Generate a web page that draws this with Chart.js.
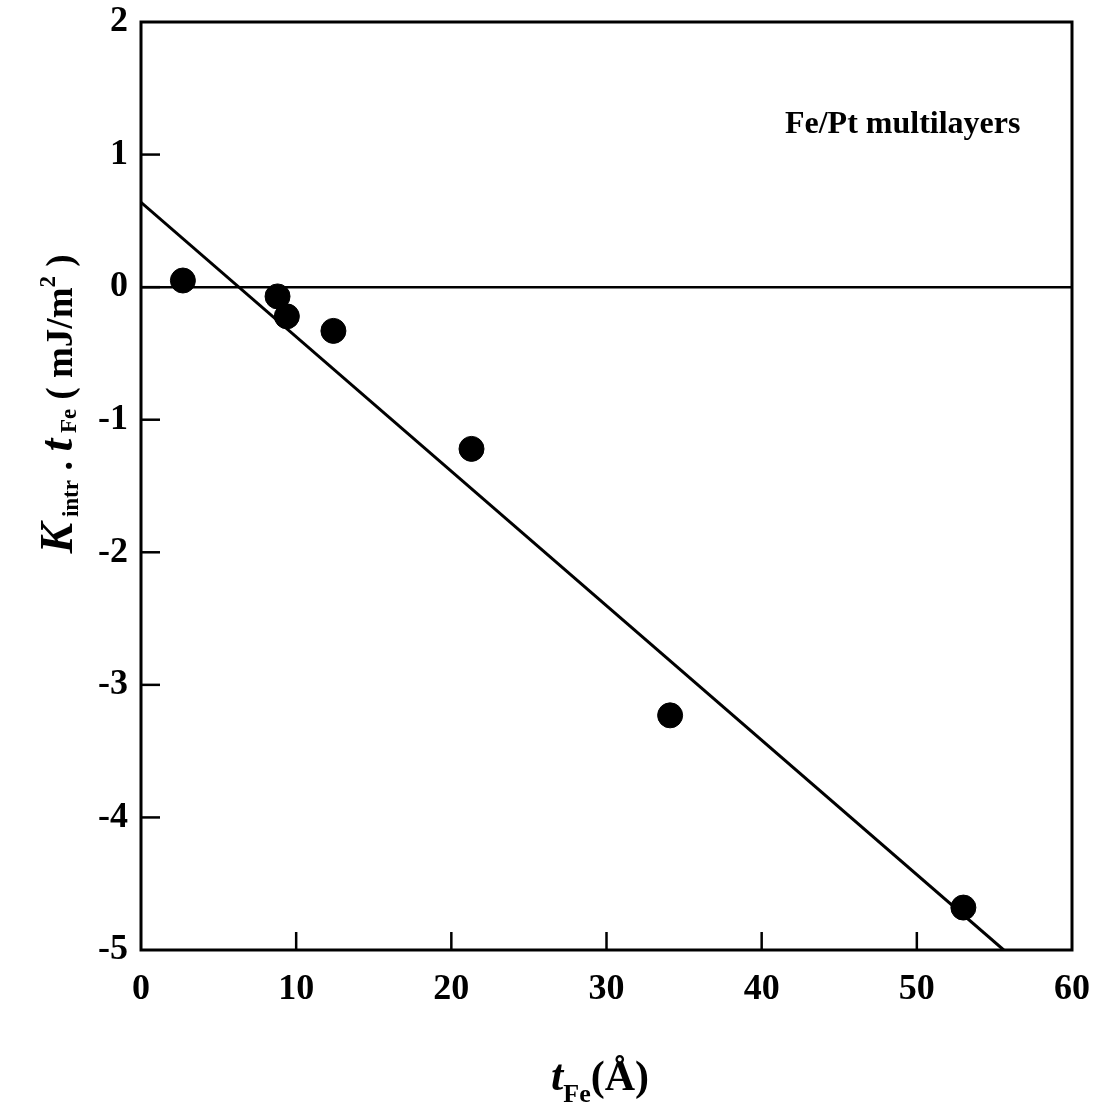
<!DOCTYPE html>
<html>
<head>
<meta charset="utf-8">
<script src="https://cdn.jsdelivr.net/npm/chart.js@4.4.1/dist/chart.umd.min.js"></script>
<style>
html,body{margin:0;padding:0;background:#fff;}
#c{display:block;}
</style>
</head>
<body>
<canvas id="c" width="1093" height="1106"></canvas>
<script>
// ---- data ----
const tFe = [2.7, 8.8, 9.4, 12.4, 21.3, 34.1, 53.0];
const Kt  = [0.05, -0.07, -0.22, -0.33, -1.22, -3.23, -4.68];
const fitX = [0, 55.6];
const fitY = [0.64, -5.0];
const zeroX = [0, 60];
const zeroY = [0, 0];
const xTicks = [0, 10, 20, 30, 40, 50, 60];
const yTicks = [2, 1, 0, -1, -2, -3, -4, -5];
const annotation = "Fe/Pt multilayers";

const SERIF = '"Liberation Serif", "DejaVu Serif", serif';

const toPts = (xs, ys) => xs.map((x, i) => ({x: x, y: ys[i]}));

const framePlugin = {
  id: 'frame',
  afterDatasetsDraw(chart) {
    const ctx = chart.ctx;
    const a = chart.chartArea;
    const xs = chart.scales.x, ys = chart.scales.y;
    ctx.save();
    ctx.strokeStyle = '#000';
    ctx.lineWidth = 3;
    ctx.strokeRect(a.left, a.top, a.right - a.left, a.bottom - a.top);
    // inward ticks
    ctx.lineWidth = 2.5;
    xTicks.forEach(v => {
      if (v === 0 || v === 60) return;
      const px = xs.getPixelForValue(v);
      ctx.beginPath(); ctx.moveTo(px, a.bottom); ctx.lineTo(px, a.bottom - 18); ctx.stroke();
    });
    yTicks.forEach(v => {
      if (v === 2 || v === -5) return;
      const py = ys.getPixelForValue(v);
      ctx.beginPath(); ctx.moveTo(a.left, py); ctx.lineTo(a.left + 19, py); ctx.stroke();
    });
    // annotation
    ctx.fillStyle = '#000';
    ctx.font = 'bold 32px ' + SERIF;
    ctx.textAlign = 'left';
    ctx.textBaseline = 'alphabetic';
    ctx.fillText(annotation, xs.getPixelForValue(41.5), ys.getPixelForValue(1.16));
    ctx.restore();
  },
  afterDraw(chart) {
    const ctx = chart.ctx;
    const a = chart.chartArea;
    ctx.save();
    ctx.fillStyle = '#000';
    ctx.textBaseline = 'alphabetic';
    ctx.textAlign = 'left';
    function drawRuns(runs, cx, baseY) {
      let w = 0;
      runs.forEach(r => { ctx.font = r[1]; w += ctx.measureText(r[0]).width; });
      let x = cx - w / 2;
      runs.forEach(r => {
        ctx.font = r[1];
        ctx.fillText(r[0], x, baseY + r[2]);
        x += ctx.measureText(r[0]).width;
      });
    }
    // x title
    drawRuns([
      ['t', 'italic bold 44px ' + SERIF, 0],
      ['Fe', 'bold 26px ' + SERIF, 12],
      ['(Å)', 'bold 42px ' + SERIF, 0]
    ], 600, 1090);
    // y title rotated
    ctx.translate(72, 404);
    ctx.rotate(-Math.PI / 2);
    drawRuns([
      ['K', 'italic bold 46px ' + SERIF, 0],
      [' intr', 'bold 23px ' + SERIF, 6],
      [' . ', 'bold 38px ' + SERIF, 0],
      ['t', 'italic bold 46px ' + SERIF, 0],
      [' Fe', 'bold 23px ' + SERIF, 4],
      [' ( mJ/m', 'bold 37px ' + SERIF, 0],
      ['2', 'bold 23px ' + SERIF, -17],
      [' )', 'bold 37px ' + SERIF, 0]
    ], 0, 0);
    ctx.restore();
  }
};

const zeroPad = s => { s.paddingLeft = 0; s.paddingRight = 0; s.paddingTop = 0; s.paddingBottom = 0; };

new Chart(document.getElementById('c'), {
  type: 'scatter',
  data: {
    datasets: [
      {
        label: 'data',
        data: toPts(tFe, Kt),
        backgroundColor: '#000',
        borderColor: '#000',
        pointRadius: 12.5,
        pointHoverRadius: 12.5,
        showLine: false,
        order: 0
      },
      {
        label: 'fit',
        data: toPts(fitX, fitY),
        showLine: true,
        borderColor: '#000',
        borderWidth: 3,
        pointRadius: 0,
        fill: false,
        order: 1
      },
      {
        label: 'zero',
        data: toPts(zeroX, zeroY),
        showLine: true,
        borderColor: '#000',
        borderWidth: 2.5,
        pointRadius: 0,
        fill: false,
        order: 2
      }
    ]
  },
  options: {
    responsive: false,
    animation: false,
    devicePixelRatio: 1,
    layout: { padding: { top: 22, right: 21, left: 0, bottom: 0 } },
    plugins: { legend: { display: false }, tooltip: { enabled: false } },
    scales: {
      x: {
        type: 'linear', min: 0, max: 60,
        afterBuildTicks: s => { s.ticks = xTicks.map(v => ({value: v})); },
        afterFit: s => { s.height = 156; zeroPad(s); },
        grid: { display: false, drawTicks: false },
        border: { display: false },
        ticks: {
          padding: 18,
          color: '#000',
          font: { family: SERIF, size: 36, weight: 'bold' },
          maxRotation: 0
        }
      },
      y: {
        type: 'linear', min: -5, max: 2,
        afterBuildTicks: s => { s.ticks = yTicks.map(v => ({value: v})); },
        afterFit: s => { s.width = 141; zeroPad(s); },
        grid: { display: false, drawTicks: false },
        border: { display: false },
        ticks: {
          padding: 13,
          color: '#000',
          font: { family: SERIF, size: 36, weight: 'bold' }
        }
      }
    }
  },
  plugins: [framePlugin]
});
</script>
</body>
</html>
